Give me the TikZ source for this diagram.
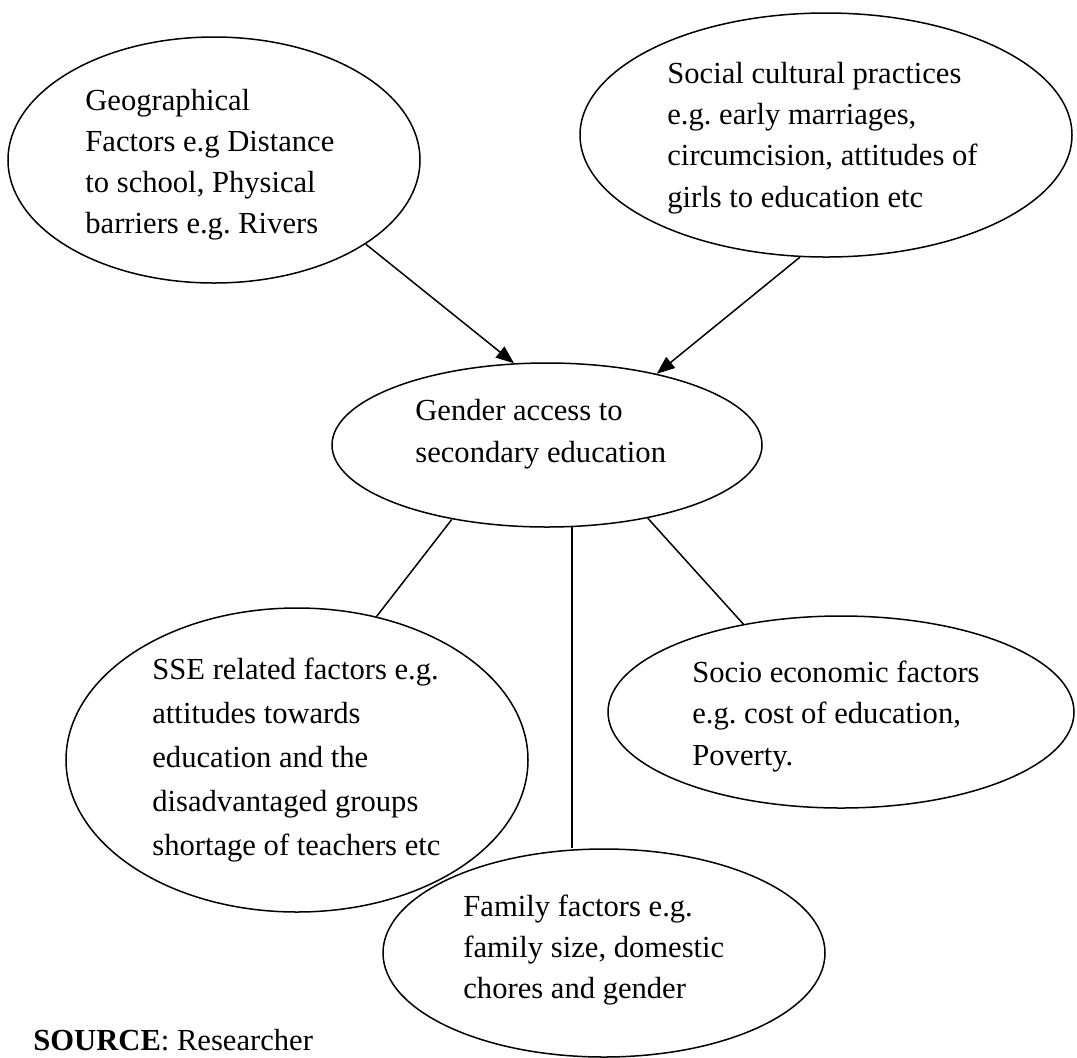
\documentclass[tikz,border=0pt]{standalone}
\usepackage{fontspec}
\setmainfont{Liberation Serif}
\usetikzlibrary{shapes.geometric,arrows.meta}
\frenchspacing
\begin{document}
\begin{tikzpicture}[x=0.5pt,y=-0.5pt,
  bubble/.style={draw, ellipse, inner sep=0pt, line width=0.75pt},
  txt/.style={anchor=base west, inner sep=0pt, align=left},
  link/.style={line width=0.75pt},
  arr/.style={line width=0.75pt, -{Triangle[length=9pt,width=7pt]}}]
\useasboundingbox (0,0) rectangle (1077,1057);
% ellipses
\node[bubble, minimum width=206pt, minimum height=123pt] (geo) at (214,160) {};
\node[bubble, minimum width=246pt, minimum height=122pt] (soc) at (826,135) {};
\node[bubble, minimum width=215pt, minimum height=82pt] (cen) at (547,445) {};
\node[bubble, minimum width=231pt, minimum height=152pt] (sse) at (297,760) {};
\node[bubble, minimum width=233pt, minimum height=96pt] (eco) at (841,712) {};
\node[bubble, minimum width=221pt, minimum height=104pt] (fam) at (604,953) {};
% texts (base anchor = baseline of the last line)
\node[txt, font=\fontsize{15.3}{20.5}\selectfont\frenchspacing] (geot) at (85,233)
  {Geographical\\Factors e.g Distance\\to school, Physical\\barriers e.g. Rivers};
\node[txt, font=\fontsize{15.3}{20.6}\selectfont\frenchspacing] (soct) at (667,207)
  {Social cultural practices\\e.g. early marriages,\\circumcision, attitudes of\\girls to education etc};
\node[txt, font=\fontsize{15.3}{21}\selectfont\frenchspacing] (cent) at (415,462)
  {Gender access to\\secondary education};
\node[txt, font=\fontsize{15.3}{21.9}\selectfont\frenchspacing] (sset) at (152,855)
  {SSE related factors e.g.\\attitudes towards\\education and the\\disadvantaged groups\\shortage of teachers etc};
\node[txt, font=\fontsize{15.3}{20.7}\selectfont\frenchspacing] (ecot) at (692,765)
  {Socio economic factors\\e.g. cost of education,\\Poverty.};
\node[txt, font=\fontsize{15.3}{20.3}\selectfont\frenchspacing] (famt) at (463,998)
  {Family factors e.g.\\family size, domestic\\chores and gender};
\node[txt, font=\fontsize{15.3}{20.5}\selectfont\frenchspacing] (src) at (33,1050)
  {\textbf{SOURCE}: Researcher};
% connectors
\draw[arr] (geo.-29.7) -- (cen.112.9);
\draw[arr] (soc.-102) -- (cen.33.5);
\draw[link] (cen.-142.3) -- (sse.61.6);
\draw[link] (cen.-36.6) -- (eco.138.7);
\draw[link] (cen.-73.7) -- (cen.-73.7 |- fam.north);
\end{tikzpicture}
\end{document}
